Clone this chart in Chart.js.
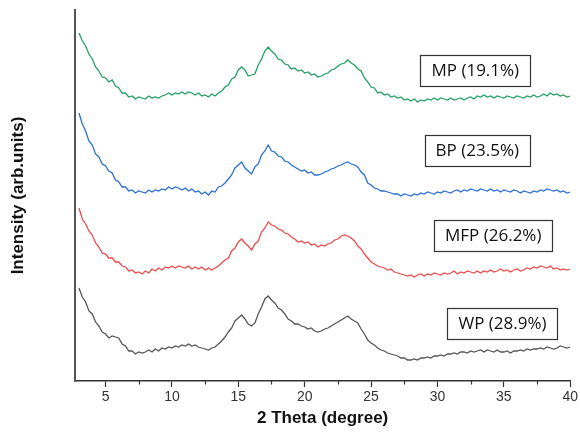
<!DOCTYPE html>
<html>
<head>
<meta charset="utf-8">
<script src="https://cdn.jsdelivr.net/npm/chart.js@4"></script>
<style>
  html, body { margin: 0; padding: 0; background: #fff; }
  #wrap { width: 580px; height: 441px; }
</style>
</head>
<body>
<div id="wrap"><canvas id="xrdChart" width="580" height="441"></canvas></div>
<script>
const twoTheta = [
  3, 3.25, 3.5, 3.75, 4, 4.25, 4.5, 4.75, 5, 5.25, 5.5, 5.75, 6, 6.25, 6.5, 6.75,
  7, 7.25, 7.5, 7.75, 8, 8.25, 8.5, 8.75, 9, 9.25, 9.5, 9.75, 10, 10.25, 10.5, 10.75,
  11, 11.25, 11.5, 11.75, 12, 12.25, 12.5, 12.75, 13, 13.25, 13.5, 13.75, 14, 14.25, 14.5, 14.75,
  15, 15.25, 15.5, 15.75, 16, 16.25, 16.5, 16.75, 17, 17.25, 17.5, 17.75, 18, 18.25, 18.5, 18.75,
  19, 19.25, 19.5, 19.75, 20, 20.25, 20.5, 20.75, 21, 21.25, 21.5, 21.75, 22, 22.25, 22.5, 22.75,
  23, 23.25, 23.5, 23.75, 24, 24.25, 24.5, 24.75, 25, 25.25, 25.5, 25.75, 26, 26.25, 26.5, 26.75,
  27, 27.25, 27.5, 27.75, 28, 28.25, 28.5, 28.75, 29, 29.25, 29.5, 29.75, 30, 30.25, 30.5, 30.75,
  31, 31.25, 31.5, 31.75, 32, 32.25, 32.5, 32.75, 33, 33.25, 33.5, 33.75, 34, 34.25, 34.5, 34.75,
  35, 35.25, 35.5, 35.75, 36, 36.25, 36.5, 36.75, 37, 37.25, 37.5, 37.75, 38, 38.25, 38.5, 38.75,
  39, 39.25, 39.5, 39.75, 40
];

// stacked (offset) intensities, arbitrary units
const mpValues = [
  348, 340, 335, 327, 322, 314, 310, 304, 303, 299, 301, 295, 293, 288, 288, 284,
  285, 282, 284, 283, 282, 285, 283, 284, 283, 285, 286, 288, 286, 288, 287, 289,
  287, 289, 288, 286, 288, 285, 286, 284, 287, 285, 288, 290, 294, 296, 302, 304,
  311, 314, 311, 305, 306, 307, 316, 322, 330, 334, 330, 327, 322, 321, 317, 316,
  312, 313, 310, 311, 308, 309, 306, 307, 304, 305, 307, 308, 311, 312, 315, 317,
  318, 321, 318, 316, 312, 310, 303, 299, 294, 293, 288, 289, 286, 287, 284, 285,
  283, 284, 281, 282, 280, 282, 279, 281, 280, 282, 281, 283, 281, 283, 282, 281,
  283, 281, 282, 283, 281, 283, 284, 282, 285, 284, 286, 284, 285, 283, 285, 284,
  283, 285, 284, 283, 285, 284, 283, 285, 284, 286, 284, 285, 287, 285, 288, 286,
  287, 285, 286, 284, 285
];
const bpValues = [
  268, 257, 250, 240, 236, 227, 224, 217, 215, 210, 208, 201, 199, 194, 194, 190,
  191, 188, 190, 189, 188, 191, 189, 191, 190, 192, 191, 194, 192, 194, 193, 191,
  193, 190, 192, 189, 190, 187, 189, 186, 190, 189, 194, 195, 198, 202, 206, 213,
  216, 219, 213, 210, 207, 214, 217, 226, 230, 236, 230, 229, 225, 224, 220, 219,
  216, 214, 212, 210, 211, 208, 209, 206, 206, 207, 209, 210, 212, 213, 215, 216,
  218, 219, 217, 216, 214, 209, 206, 198, 196, 193, 192, 190, 190, 189, 188, 187,
  187, 185, 187, 186, 185, 187, 186, 188, 187, 189, 188, 187, 189, 188, 190, 189,
  188, 190, 191, 189, 191, 190, 192, 191, 190, 192, 191, 190, 192, 190, 191, 189,
  191, 190, 189, 191, 190, 188, 190, 189, 188, 190, 189, 191, 190, 192, 191, 190,
  191, 189, 190, 188, 189
];
const mfpValues = [
  173, 162, 157, 150, 146, 138, 134, 128, 127, 123, 123, 119, 119, 115, 114, 110,
  111, 108, 109, 107, 110, 108, 112, 110, 113, 111, 114, 113, 115, 113, 115, 114,
  113, 115, 112, 114, 112, 114, 111, 113, 111, 113, 115, 118, 121, 123, 130, 133,
  139, 142, 138, 135, 131, 137, 140, 149, 153, 159, 156, 155, 152, 151, 148, 147,
  144, 142, 139, 140, 138, 139, 136, 137, 134, 136, 135, 137, 138, 141, 142, 145,
  146, 145, 143, 140, 135, 132, 127, 123, 119, 117, 115, 114, 113, 111, 112, 109,
  108, 107, 106, 105, 106, 104, 106, 107, 105, 107, 106, 108, 107, 106, 108, 107,
  108, 110, 107, 109, 108, 110, 109, 108, 110, 108, 110, 109, 111, 109, 110, 112,
  110, 111, 109, 111, 112, 110, 111, 113, 112, 114, 113, 115, 114, 113, 115, 112,
  113, 111, 112, 111, 112
];
const wpValues = [
  93, 84, 79, 70, 67, 59, 55, 49, 47, 43, 45, 44, 43, 37, 35, 30,
  30, 27, 29, 28, 29, 31, 29, 32, 30, 33, 32, 34, 33, 35, 34, 36,
  35, 37, 35, 36, 34, 33, 32, 31, 33, 34, 37, 40, 44, 49, 53, 60,
  63, 66, 62, 57, 55, 58, 67, 74, 82, 85, 81, 78, 73, 71, 67, 62,
  60, 57, 57, 55, 54, 52, 53, 50, 49, 50, 52, 53, 55, 57, 59, 61,
  63, 65, 62, 60, 58, 52, 47, 41, 38, 36, 33, 31, 30, 28, 27, 26,
  25, 23, 23, 21, 21, 22, 21, 23, 23, 24, 23, 25, 25, 26, 25, 27,
  27, 28, 27, 29, 29, 28, 30, 29, 30, 31, 29, 31, 30, 29, 31, 29,
  29, 30, 28, 30, 30, 31, 30, 32, 31, 32, 32, 33, 32, 34, 33, 32,
  33, 35, 34, 33, 34
];

const seriesNames = ['MP (19.1%)', 'BP (23.5%)', 'MFP (26.2%)', 'WP (28.9%)'];
const xTicks = [5, 10, 15, 20, 25, 30, 35, 40];

const colors = ['#23a062', '#2a6ed6', '#ef4a4a', '#555555'];
// where each sample label box sits (data units: 2theta, intensity)
const labelPos = [[32.85, 311], [33.0, 231], [34.2, 146], [34.9, 58]];

const toPoints = vals => vals.map((v, i) => ({ x: twoTheta[i], y: v }));

const boxLabels = {
  id: 'boxLabels',
  afterDatasetsDraw(chart) {
    const { ctx, scales: { x, y } } = chart;
    ctx.save();
    // minor ticks between the labelled ones
    ctx.strokeStyle = '#333';
    ctx.lineWidth = 1.2;
    for (let v = 7.5; v < 40; v += 5) {
      const px = Math.round(x.getPixelForValue(v)) + 0.5;
      ctx.beginPath();
      ctx.moveTo(px, y.bottom);
      ctx.lineTo(px, y.bottom + 3.5);
      ctx.stroke();
    }
    ctx.font = '17px "Open Sans"';
    ctx.textAlign = 'center';
    ctx.textBaseline = 'middle';
    seriesNames.forEach((name, i) => {
      const cx = x.getPixelForValue(labelPos[i][0]);
      const cy = y.getPixelForValue(labelPos[i][1]);
      const w = ctx.measureText(name).width + 22;
      const h = 31;
      ctx.fillStyle = '#fff';
      ctx.fillRect(cx - w / 2, cy - h / 2, w, h);
      ctx.strokeStyle = '#333';
      ctx.lineWidth = 1.2;
      ctx.strokeRect(Math.round(cx - w / 2) + 0.5, Math.round(cy - h / 2) + 0.5, Math.round(w), h);
      ctx.fillStyle = '#111';
      ctx.fillText(name, cx, cy + 1);
    });
    ctx.restore();
  }
};

new Chart(document.getElementById('xrdChart').getContext('2d'), {
  type: 'line',
  data: {
    datasets: [mpValues, bpValues, mfpValues, wpValues].map((vals, i) => ({
      label: seriesNames[i],
      data: toPoints(vals),
      borderColor: colors[i],
      borderWidth: 1.3,
      pointRadius: 0,
      tension: 0,
      fill: false
    }))
  },
  options: {
    responsive: false,
    animation: false,
    layout: { padding: { top: 10, right: 8, left: 0, bottom: 0 } },
    plugins: {
      legend: { display: false },
      tooltip: { enabled: false }
    },
    scales: {
      x: {
        type: 'linear',
        min: 2.7,
        max: 40,
        afterBuildTicks: scale => { scale.ticks = xTicks.map(v => ({ value: v })); },
        afterFit: scale => { scale.height = 60; },
        ticks: {
          color: '#333',
          padding: 2,
          font: { family: '"Liberation Sans", Arial, sans-serif', size: 14 },
          maxRotation: 0
        },
        grid: { drawOnChartArea: false, drawTicks: true, tickLength: 6, tickWidth: 1.2, tickColor: '#333' },
        border: { color: '#333', width: 1.5 },
        title: {
          display: true,
          text: '2 Theta (degree)',
          color: '#111',
          padding: { top: 4, bottom: 12 },
          font: { family: '"Liberation Sans", Arial, sans-serif', size: 17, weight: 'bold' }
        }
      },
      y: {
        min: 0,
        max: 371,
        afterFit: scale => { scale.width = 75; },
        ticks: { display: false },
        grid: { display: false },
        border: { color: '#555', width: 2 },
        title: {
          display: true,
          text: 'Intensity (arb.units)',
          color: '#111',
          padding: { top: 8, bottom: 0 },
          font: { family: '"Liberation Sans", Arial, sans-serif', size: 17, weight: 'bold' }
        }
      }
    }
  },
  plugins: [boxLabels]
});
</script>
</body>
</html>
